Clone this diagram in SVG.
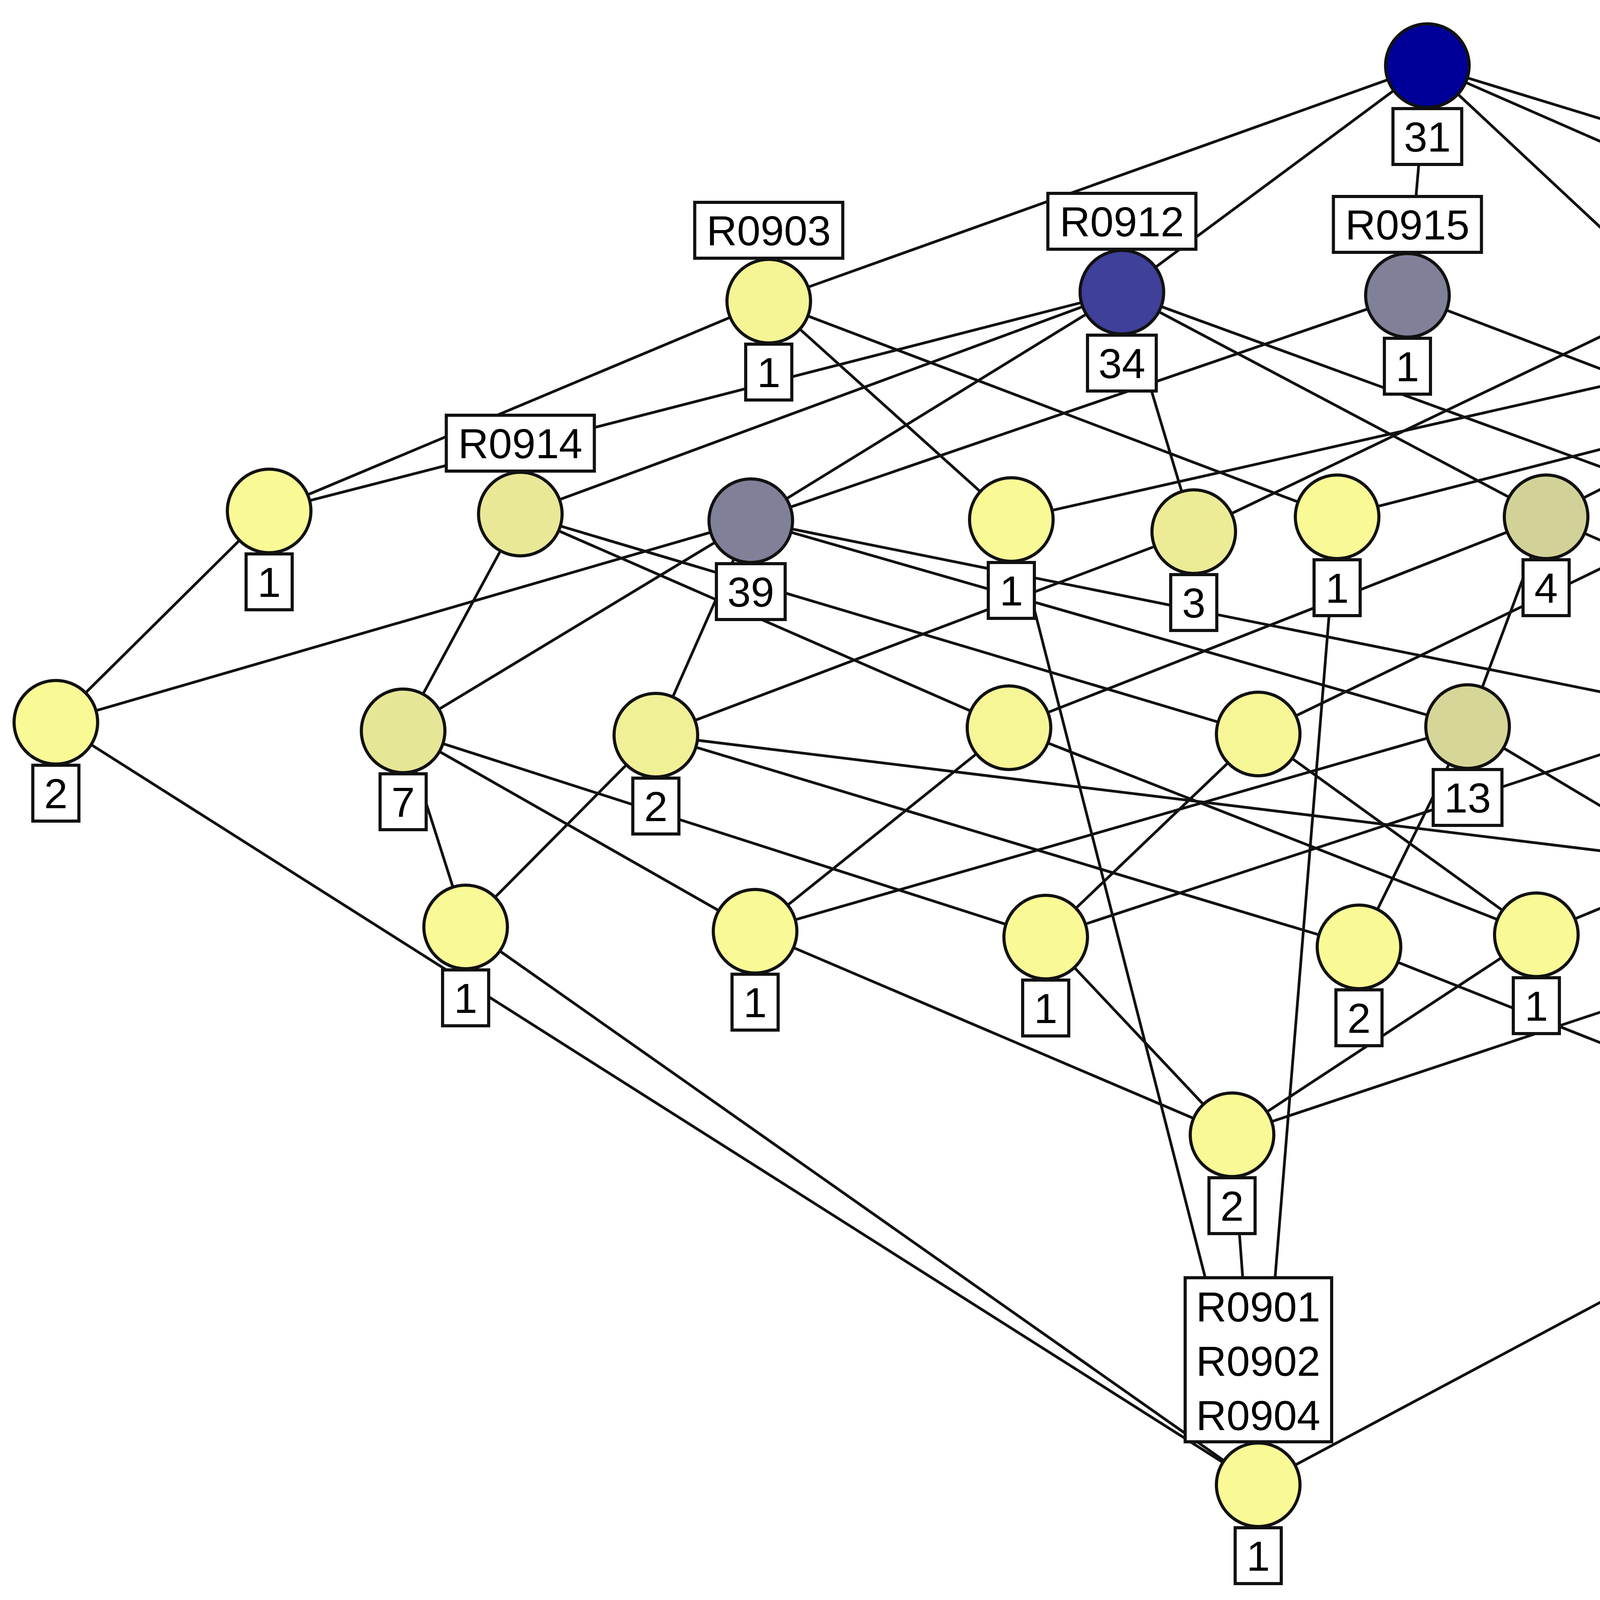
<svg xmlns="http://www.w3.org/2000/svg" width="5830" height="4116" viewBox="0 0 5830 4116">
<style>
.e line{stroke:#111;stroke-width:7;}
.n circle{stroke:#111;stroke-width:8;}
.lb{fill:#fff;stroke:#111;stroke-width:8;}
text{font-family:"Liberation Sans",Arial,sans-serif;font-size:108px;text-anchor:middle;fill:#000;}
</style>
<rect width="5830" height="4116" fill="#fff"/>
<g id="connectors" class="e">
<line x1="3654" y1="168" x2="1968" y2="771"/>
<line x1="3654" y1="168" x2="2872" y2="748"/>
<line x1="3654" y1="168" x2="3603" y2="756"/>
<line x1="3654" y1="168" x2="4295" y2="767"/>
<line x1="3654" y1="168" x2="5042" y2="776"/>
<line x1="3654" y1="168" x2="5603" y2="765"/>
<line x1="689" y1="1308" x2="1968" y2="771"/>
<line x1="689" y1="1308" x2="2872" y2="748"/>
<line x1="1332" y1="1316" x2="2872" y2="748"/>
<line x1="1922" y1="1333" x2="2872" y2="748"/>
<line x1="1922" y1="1333" x2="3603" y2="756"/>
<line x1="2589" y1="1330" x2="1968" y2="771"/>
<line x1="2589" y1="1330" x2="5042" y2="776"/>
<line x1="3056" y1="1361" x2="2872" y2="748"/>
<line x1="3056" y1="1361" x2="4295" y2="767"/>
<line x1="3423" y1="1323" x2="1968" y2="771"/>
<line x1="3423" y1="1323" x2="5603" y2="765"/>
<line x1="3958" y1="1323" x2="2872" y2="748"/>
<line x1="3958" y1="1323" x2="5042" y2="776"/>
<line x1="4405" y1="1307" x2="2872" y2="748"/>
<line x1="4405" y1="1307" x2="5603" y2="765"/>
<line x1="5053" y1="1308" x2="3603" y2="756"/>
<line x1="5053" y1="1308" x2="5603" y2="765"/>
<line x1="5612" y1="1333" x2="4295" y2="767"/>
<line x1="5612" y1="1333" x2="5603" y2="765"/>
<line x1="143" y1="1849" x2="689" y2="1308"/>
<line x1="143" y1="1849" x2="1922" y2="1333"/>
<line x1="1032" y1="1871" x2="1332" y2="1316"/>
<line x1="1032" y1="1871" x2="1922" y2="1333"/>
<line x1="1679" y1="1882" x2="1922" y2="1333"/>
<line x1="1679" y1="1882" x2="3056" y2="1361"/>
<line x1="2583" y1="1863" x2="1332" y2="1316"/>
<line x1="2583" y1="1863" x2="3958" y2="1323"/>
<line x1="3221" y1="1879" x2="1332" y2="1316"/>
<line x1="3221" y1="1879" x2="4405" y2="1307"/>
<line x1="3757" y1="1860" x2="1922" y2="1333"/>
<line x1="3757" y1="1860" x2="3958" y2="1323"/>
<line x1="4400" y1="1832" x2="1922" y2="1333"/>
<line x1="4400" y1="1832" x2="4405" y2="1307"/>
<line x1="4400" y1="1832" x2="5053" y2="1308"/>
<line x1="5213" y1="1864" x2="3958" y2="1323"/>
<line x1="5213" y1="1864" x2="4405" y2="1307"/>
<line x1="1192" y1="2373" x2="1032" y2="1871"/>
<line x1="1192" y1="2373" x2="1679" y2="1882"/>
<line x1="1933" y1="2384" x2="1032" y2="1871"/>
<line x1="1933" y1="2384" x2="2583" y2="1863"/>
<line x1="1933" y1="2384" x2="3757" y2="1860"/>
<line x1="2677" y1="2399" x2="1032" y2="1871"/>
<line x1="2677" y1="2399" x2="3221" y2="1879"/>
<line x1="2677" y1="2399" x2="4400" y2="1832"/>
<line x1="3479" y1="2424" x2="1679" y2="1882"/>
<line x1="3479" y1="2424" x2="3757" y2="1860"/>
<line x1="3933" y1="2393" x2="2583" y2="1863"/>
<line x1="3933" y1="2393" x2="3221" y2="1879"/>
<line x1="3933" y1="2393" x2="5213" y2="1864"/>
<line x1="4665" y1="2402" x2="3757" y2="1860"/>
<line x1="4665" y1="2402" x2="4400" y2="1832"/>
<line x1="4665" y1="2402" x2="5213" y2="1864"/>
<line x1="5454" y1="2344" x2="5612" y2="1333"/>
<line x1="5454" y1="2344" x2="1679" y2="1882"/>
<line x1="5454" y1="2344" x2="4400" y2="1832"/>
<line x1="3154" y1="2905" x2="1933" y2="2384"/>
<line x1="3154" y1="2905" x2="2677" y2="2399"/>
<line x1="3154" y1="2905" x2="3933" y2="2393"/>
<line x1="3154" y1="2905" x2="4665" y2="2402"/>
<line x1="4811" y1="2953" x2="3479" y2="2424"/>
<line x1="4811" y1="2953" x2="4665" y2="2402"/>
<line x1="4811" y1="2953" x2="5454" y2="2344"/>
<line x1="3221" y1="3801" x2="143" y2="1849"/>
<line x1="3221" y1="3801" x2="1192" y2="2373"/>
<line x1="3221" y1="3801" x2="2589" y2="1330"/>
<line x1="3221" y1="3801" x2="3423" y2="1323"/>
<line x1="3221" y1="3801" x2="3154" y2="2905"/>
<line x1="3221" y1="3801" x2="4811" y2="2953"/>
</g>
<g id="N0" class="n"><circle cx="3654" cy="168" r="107" fill="#000099"/><rect class="lb" x="3566" y="278" width="176" height="143"/><text x="3654" y="388">31</text></g>
<g id="nA" class="n"><circle cx="1968" cy="771" r="107" fill="#f5f596"/><rect class="lb" x="1778.5" y="518" width="379" height="143"/><text x="1968" y="628">R0903</text><rect class="lb" x="1909" y="881" width="118" height="143"/><text x="1968" y="991">1</text></g>
<g id="nB" class="n"><circle cx="2872" cy="748" r="107" fill="#3e4099"/><rect class="lb" x="2682.5" y="495" width="379" height="143"/><text x="2872" y="605">R0912</text><rect class="lb" x="2784" y="858" width="176" height="143"/><text x="2872" y="968">34</text></g>
<g id="nC" class="n"><circle cx="3603" cy="756" r="107" fill="#808099"/><rect class="lb" x="3413.5" y="503" width="379" height="143"/><text x="3603" y="613">R0915</text><rect class="lb" x="3544" y="866" width="118" height="143"/><text x="3603" y="976">1</text></g>
<g id="nD" class="n"><circle cx="4295" cy="767" r="107" fill="#ebeb97"/><rect class="lb" x="4105.5" y="514" width="379" height="143"/><text x="4295" y="624">R0913</text></g>
<g id="nE" class="n"><circle cx="5042" cy="776" r="107" fill="#c8c898"/><rect class="lb" x="4852.5" y="523" width="379" height="143"/><text x="5042" y="633">R0911</text><rect class="lb" x="4983" y="886" width="118" height="143"/><text x="5042" y="996">5</text></g>
<g id="nF" class="n"><circle cx="5603" cy="765" r="107" fill="#d3d398"/><rect class="lb" x="5413.5" y="512" width="379" height="143"/><text x="5603" y="622">R0916</text><rect class="lb" x="5544" y="875" width="118" height="143"/><text x="5603" y="985">4</text></g>
<g id="nG" class="n"><circle cx="689" cy="1308" r="107" fill="#f9f996"/><rect class="lb" x="630" y="1418" width="118" height="143"/><text x="689" y="1528">1</text></g>
<g id="nH" class="n"><circle cx="1332" cy="1316" r="107" fill="#e8e897"/><rect class="lb" x="1142.5" y="1063" width="379" height="143"/><text x="1332" y="1173">R0914</text></g>
<g id="nI" class="n"><circle cx="1922" cy="1333" r="107" fill="#808099"/><rect class="lb" x="1834" y="1443" width="176" height="143"/><text x="1922" y="1553">39</text></g>
<g id="nJ" class="n"><circle cx="2589" cy="1330" r="107" fill="#f9f996"/><rect class="lb" x="2530" y="1440" width="118" height="143"/><text x="2589" y="1550">1</text></g>
<g id="nK" class="n"><circle cx="3056" cy="1361" r="107" fill="#ecec97"/><rect class="lb" x="2997" y="1471" width="118" height="143"/><text x="3056" y="1581">3</text></g>
<g id="nL" class="n"><circle cx="3423" cy="1323" r="107" fill="#f9f996"/><rect class="lb" x="3364" y="1433" width="118" height="143"/><text x="3423" y="1543">1</text></g>
<g id="nM" class="n"><circle cx="3958" cy="1323" r="107" fill="#d2d298"/><rect class="lb" x="3899" y="1433" width="118" height="143"/><text x="3958" y="1543">4</text></g>
<g id="nN" class="n"><circle cx="4405" cy="1307" r="107" fill="#dfdf97"/><rect class="lb" x="4346" y="1417" width="118" height="143"/><text x="4405" y="1527">3</text></g>
<g id="nO" class="n"><circle cx="5053" cy="1308" r="107" fill="#dfdf97"/><rect class="lb" x="4994" y="1418" width="118" height="143"/><text x="5053" y="1528">1</text></g>
<g id="nP" class="n"><circle cx="5612" cy="1333" r="107" fill="#f6f696"/><rect class="lb" x="5553" y="1443" width="118" height="143"/><text x="5612" y="1553">1</text></g>
<g id="nQ" class="n"><circle cx="143" cy="1849" r="107" fill="#f9f996"/><rect class="lb" x="84" y="1959" width="118" height="143"/><text x="143" y="2069">2</text></g>
<g id="nR" class="n"><circle cx="1032" cy="1871" r="107" fill="#e6e697"/><rect class="lb" x="973" y="1981" width="118" height="143"/><text x="1032" y="2091">7</text></g>
<g id="nS" class="n"><circle cx="1679" cy="1882" r="107" fill="#f0f097"/><rect class="lb" x="1620" y="1992" width="118" height="143"/><text x="1679" y="2102">2</text></g>
<g id="nT" class="n"><circle cx="2583" cy="1863" r="107" fill="#f6f696"/></g>
<g id="nU" class="n"><circle cx="3221" cy="1879" r="107" fill="#f6f696"/></g>
<g id="nV" class="n"><circle cx="3757" cy="1860" r="107" fill="#d6d698"/><rect class="lb" x="3669" y="1970" width="176" height="143"/><text x="3757" y="2080">13</text></g>
<g id="nW" class="n"><circle cx="4400" cy="1832" r="107" fill="#e2e297"/><rect class="lb" x="4341" y="1942" width="118" height="143"/><text x="4400" y="2052">7</text></g>
<g id="nX" class="n"><circle cx="5213" cy="1864" r="107" fill="#ecec97"/></g>
<g id="nY" class="n"><circle cx="1192" cy="2373" r="107" fill="#f9f996"/><rect class="lb" x="1133" y="2483" width="118" height="143"/><text x="1192" y="2593">1</text></g>
<g id="nZ" class="n"><circle cx="1933" cy="2384" r="107" fill="#f9f996"/><rect class="lb" x="1874" y="2494" width="118" height="143"/><text x="1933" y="2604">1</text></g>
<g id="nAA" class="n"><circle cx="2677" cy="2399" r="107" fill="#f9f996"/><rect class="lb" x="2618" y="2509" width="118" height="143"/><text x="2677" y="2619">1</text></g>
<g id="nAB" class="n"><circle cx="3479" cy="2424" r="107" fill="#f9f996"/><rect class="lb" x="3420" y="2534" width="118" height="143"/><text x="3479" y="2644">2</text></g>
<g id="nAC" class="n"><circle cx="3933" cy="2393" r="107" fill="#f9f996"/><rect class="lb" x="3874" y="2503" width="118" height="143"/><text x="3933" y="2613">1</text></g>
<g id="nAD" class="n"><circle cx="4665" cy="2402" r="107" fill="#ecec97"/><rect class="lb" x="4606" y="2512" width="118" height="143"/><text x="4665" y="2622">6</text></g>
<g id="nAE" class="n"><circle cx="5454" cy="2344" r="107" fill="#f9f996"/><rect class="lb" x="5395" y="2454" width="118" height="143"/><text x="5454" y="2564">1</text></g>
<g id="nAF" class="n"><circle cx="3154" cy="2905" r="107" fill="#f9f996"/><rect class="lb" x="3095" y="3015" width="118" height="143"/><text x="3154" y="3125">2</text></g>
<g id="nAG" class="n"><circle cx="4811" cy="2953" r="107" fill="#f9f996"/><rect class="lb" x="4752" y="3063" width="118" height="143"/><text x="4811" y="3173">2</text></g>
<g id="nBOT" class="n"><circle cx="3221" cy="3801" r="107" fill="#f9f996"/><rect class="lb" x="3034" y="3271" width="375" height="420"/><text x="3221" y="3383">R0901</text><text x="3221" y="3522">R0902</text><text x="3221" y="3661">R0904</text><rect class="lb" x="3162" y="3911" width="118" height="143"/><text x="3221" y="4021">1</text></g>
</svg>
